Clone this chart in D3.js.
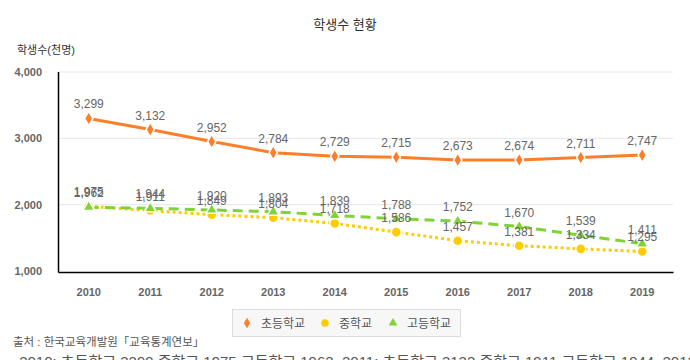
<!DOCTYPE html>
<html><head><meta charset="utf-8">
<script src="https://cdn.jsdelivr.net/npm/d3@7"></script>
<style>
body{margin:0;background:#fff;}
svg{display:block;font-family:"Liberation Sans","Noto Sans CJK KR",sans-serif;}
</style></head>
<body><svg id="c" width="690" height="360"></svg>
<script>
const years = ["2010","2011","2012","2013","2014","2015","2016","2017","2018","2019"];
const seriesNames = ["초등학교","중학교","고등학교"];
const elementary = [3299,3132,2952,2784,2729,2715,2673,2674,2711,2747];
const middle = [1975,1911,1849,1804,1718,1586,1457,1381,1334,1295];
const high = [1962,1944,1920,1893,1839,1788,1752,1670,1539,1411];
const yTicks = [1000,2000,3000,4000];
const title = "학생수 현황";
const yTitle = "학생수(천명)";
const source = "출처 : 한국교육개발원「교육통계연보」";

const svg = d3.select("#c");
const L=58, R=673, T=72, B=271;
const x = d3.scaleBand().domain(years).range([L,R]);
const y = d3.scaleLinear().domain([1000,4000]).range([B,T]);
const fmt = d3.format(",");

svg.append("text").attr("x",345).attr("y",29).attr("text-anchor","middle")
  .attr("font-size",13).attr("fill","#333").text(title);
svg.append("text").attr("x",17).attr("y",54).attr("font-size",11).attr("fill","#333").text(yTitle);

// grid
svg.append("g").selectAll("line").data(yTicks.slice(1)).join("line")
  .attr("x1",L).attr("x2",R).attr("y1",d=>y(d)).attr("y2",d=>y(d))
  .attr("stroke","#e6e6e6").attr("stroke-width",1);

// y axis
const ya = svg.append("g").attr("transform",`translate(${L},0)`)
  .call(d3.axisLeft(y).tickValues(yTicks).tickFormat(fmt).tickSize(0).tickPadding(16));
ya.select(".domain").remove();
ya.selectAll("text").attr("font-size",11).attr("font-weight","bold").attr("fill","#666")
  .attr("font-family","Liberation Sans, sans-serif");
svg.append("line").attr("x1",L+0.5).attr("x2",L+0.5).attr("y1",T).attr("y2",B+1.5).attr("stroke","#000").attr("stroke-width",1.5);

// x axis
const xa = svg.append("g").attr("transform",`translate(0,${B+1})`)
  .call(d3.axisBottom(x).tickSize(0).tickPadding(16));
xa.select(".domain").attr("stroke","#000").attr("stroke-width",1.5);
xa.selectAll("text").attr("font-size",11).attr("font-weight","bold").attr("fill","#666")
  .attr("font-family","Liberation Sans, sans-serif");

const cx = d=>x(d)+x.bandwidth()/2;
const cfg = [
  {vals:elementary,color:"#fb7f2a",dash:null,sym:d3.symbolDiamond,size:60},
  {vals:middle,color:"#ffcc00",dash:"3,3",sym:d3.symbolCircle,size:80},
  {vals:high,color:"#7fd433",dash:"10,6",sym:d3.symbolTriangle,size:60}
];
const line = d3.line().x((d,i)=>cx(years[i])).y(d=>y(d));
cfg.forEach(c=>{
  const p = svg.append("path").attr("d",line(c.vals)).attr("fill","none")
    .attr("stroke",c.color).attr("stroke-width",3);
  if(c.dash) p.attr("stroke-dasharray",c.dash);
});
cfg.forEach(c=>{
  svg.append("g").selectAll("path").data(c.vals).join("path")
    .attr("d",d3.symbol().type(c.sym).size(c.size))
    .attr("transform",(d,i)=>`translate(${cx(years[i])},${y(d)})`)
    .attr("fill",c.color).attr("stroke","#fff").attr("stroke-width",1.5);
});
cfg.forEach(c=>{
  svg.append("g").selectAll("text").data(c.vals).join("text")
    .attr("x",(d,i)=>cx(years[i])).attr("y",d=>y(d)-10)
    .attr("text-anchor","middle").attr("font-size",12).attr("fill","#666")
    .text(d=>fmt(d));
});

// legend
const lg = svg.append("g");
lg.append("rect").attr("x",232.5).attr("y",309.5).attr("width",228).attr("height",27)
  .attr("fill","#f7f7f7").attr("stroke","#dcdcdc");
const lx=[247,325,393];
cfg.forEach((c,i)=>{
  lg.append("path").attr("d",d3.symbol().type(c.sym).size(c.size*0.55))
    .attr("transform",`translate(${lx[i]},${323})`).attr("fill",c.color);
  lg.append("text").attr("x",lx[i]+14).attr("y",327.5).attr("font-size",12).attr("fill","#555").text(seriesNames[i]);
});

svg.append("text").attr("x",13).attr("y",346).attr("font-size",11.5).attr("fill","#555").text(source);
const summary = "- " + years.map((yr,i)=>`${yr}: ${seriesNames[0]} ${elementary[i]} ${seriesNames[1]} ${middle[i]} ${seriesNames[2]} ${high[i]}`).join(", ");
svg.append("text").attr("x",10).attr("y",367).attr("font-size",15).attr("fill","#555").text(summary);
</script></body></html>
